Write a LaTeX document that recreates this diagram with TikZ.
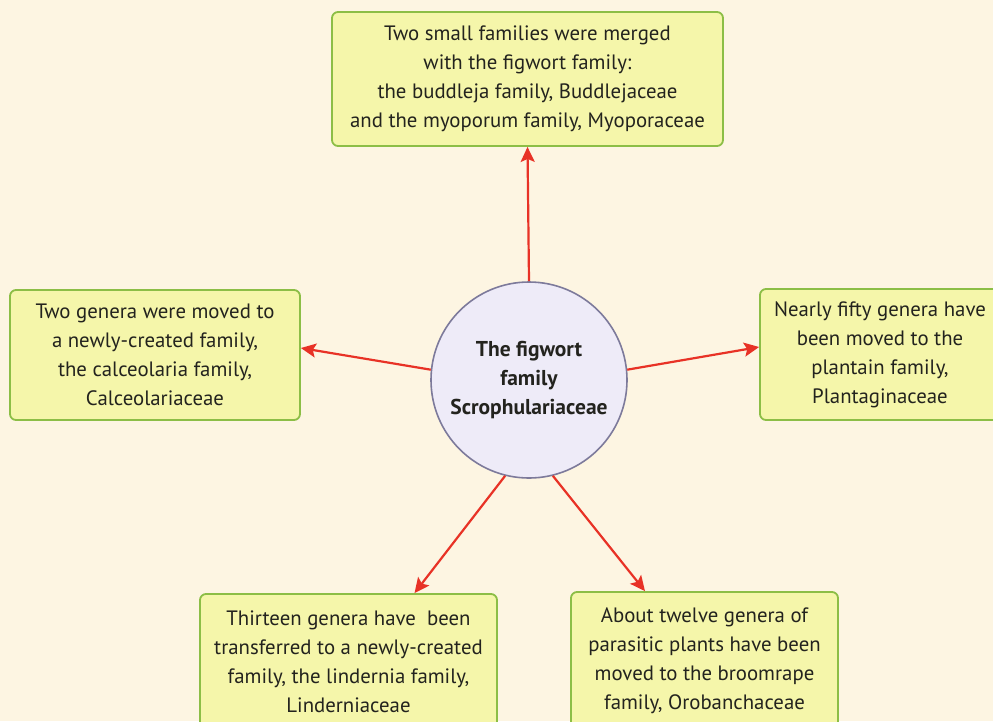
\documentclass[tikz,border=0pt]{standalone}
\usepackage{fontspec}
\setmainfont{PT Sans}
\usetikzlibrary{arrows.meta}
\definecolor{bgc}{RGB}{253,245,226}
\definecolor{boxfill}{RGB}{245,246,170}
\definecolor{boxline}{RGB}{140,190,70}
\definecolor{circfill}{RGB}{238,235,248}
\definecolor{circline}{RGB}{125,122,155}
\definecolor{arrred}{RGB}{232,50,38}
\definecolor{txt}{RGB}{35,35,30}
\tikzset{
  infobox/.style={draw=boxline, line width=1.8pt, fill=boxfill, rounded corners=6pt,
    align=center, inner sep=0pt, text=txt, font=\fontsize{20.8}{29}\selectfont},
  hub/.style={circle, draw=circline, line width=1.6pt, fill=circfill, minimum size=196pt,
    align=center, inner sep=0pt, text=txt, font=\bfseries\fontsize{21.5}{29}\selectfont},
  arr/.style={draw=arrred, line width=2.2pt, -{Stealth[length=15pt,width=14pt,inset=3pt]}}
}
\begin{document}
\begin{tikzpicture}[x=1pt,y=-1pt]
\fill[bgc] (0,0) rectangle (993,721);
\useasboundingbox (0,0) rectangle (993,721);
\begin{scope}
\clip (0,0) rectangle (993,721);
\node[infobox, minimum width=391pt, minimum height=134pt] (top) at (527.5,79)
  {Two small families were merged\\with the figwort family:\\the buddleja family, Buddlejaceae\\and the myoporum family, Myoporaceae};
\node[infobox, minimum width=290pt, minimum height=130pt] (left) at (155,355)
  {Two genera were moved to\\a newly-created family,\\the calceolaria family,\\Calceolariaceae};
\node[infobox, minimum width=240pt, minimum height=131pt] (right) at (880,354.5)
  {Nearly fifty genera have\\been moved to the\\plantain family,\\Plantaginaceae};
\node[infobox, minimum width=297pt, minimum height=136pt] (bl) at (348.5,662)
  {Thirteen genera have\ \ been\\transferred to a newly-created\\family, the lindernia family,\\Linderniaceae};
\node[infobox, minimum width=267pt, minimum height=138pt] (br) at (704.5,661)
  {About twelve genera of\\parasitic plants have been\\moved to the broomrape\\family, Orobanchaceae};
\node[hub] (c) at (529,380) {The figwort\\family\\Scrophulariaceae};
\draw[arr] (c.north) -- (top.south);
\draw[arr] (c.174) -- ([yshift=7pt]left.east);
\draw[arr] (c.6) -- ([yshift=7.5pt]right.west);
\draw[arr] (c.256) -- ([xshift=66pt]bl.north);
\draw[arr] (c.284) -- ([xshift=-59.5pt]br.north);
\end{scope}
\end{tikzpicture}
\end{document}
